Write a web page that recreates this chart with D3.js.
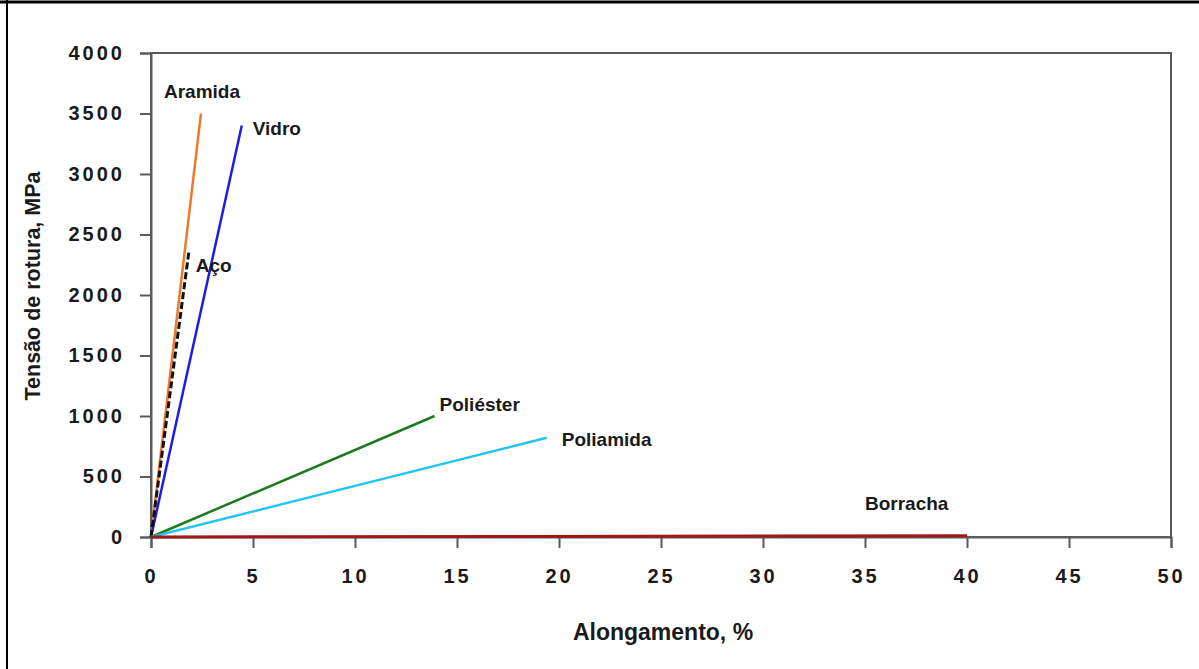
<!DOCTYPE html>
<html><head><meta charset="utf-8">
<script src="https://cdn.jsdelivr.net/npm/d3@7"></script>
<style>
html,body{margin:0;padding:0;background:#fff;}
svg{display:block;}
text{font-family:"Liberation Sans",Arial,sans-serif;font-weight:bold;fill:#1a1a1a;}
</style></head>
<body>
<svg id="chart" width="1199" height="669"></svg>
<script>
// Data (elongation %, tensile strength MPa)
const materials = ["Aramida","Vidro","Aço","Poliéster","Poliamida","Borracha"];
const elongation = [2.45, 4.45, 1.85, 13.9, 19.4, 40];
const strength = [3500, 3400, 2350, 1000, 820, 10];
const colors = ["#f07828","#1e1ee0","#111111","#1f7a1f","#27c3f0","#a01818"];
const xTicks = [0,5,10,15,20,25,30,35,40,45,50];
const yTicks = [0,500,1000,1500,2000,2500,3000,3500,4000];

const svg = d3.select("#chart");
const x = d3.scaleLinear().domain([0,50]).range([151,1171]);
const y = d3.scaleLinear().domain([0,4000]).range([537,53]);

// outer frame (top & left)
svg.append("line").attr("x1",0).attr("x2",1199).attr("y1",2).attr("y2",2).attr("stroke","#000").attr("stroke-width",3);
svg.append("line").attr("x1",7).attr("x2",7).attr("y1",0).attr("y2",669).attr("stroke","#000").attr("stroke-width",2);

// plot frame
svg.append("rect").attr("x",x(0)).attr("y",y(4000)).attr("width",x(50)-x(0)).attr("height",y(0)-y(4000))
  .attr("fill","none").attr("stroke","#5a5a5a").attr("stroke-width",2);

// axes
const yAxis = d3.axisLeft(y).tickValues(yTicks).tickSize(11).tickPadding(15).tickFormat(d3.format("d"));
const gy = svg.append("g").attr("transform",`translate(${x(0)},0)`).call(yAxis);
const xAxis = d3.axisBottom(x).tickValues(xTicks).tickSize(11).tickPadding(21).tickFormat(d3.format("d"));
const gx = svg.append("g").attr("transform",`translate(0,${y(0)})`).call(xAxis);
[gx,gy].forEach(g=>{
  g.select(".domain").attr("stroke","#5a5a5a").attr("stroke-width",2);
  g.selectAll(".tick line").attr("stroke","#5a5a5a").attr("stroke-width",2);
  g.selectAll(".tick text").attr("font-size",20).attr("letter-spacing",3)
   .attr("font-family","'Liberation Sans',Arial,sans-serif").attr("font-weight","bold").attr("fill","#262626");
});

// series lines
const data = materials.map((m,i)=>({name:m, pts:[[0,0],[elongation[i],strength[i]]], color:colors[i]}));
const line = d3.line().x(d=>x(d[0])).y(d=>y(d[1]));
svg.append("g").selectAll("path").data(data).join("path")
  .attr("d",d=>line(d.pts)).attr("fill","none")
  .attr("stroke",d=>d.color).attr("stroke-width",d=>d.name==="Borracha"?3:(d.name==="Aço"?3:2.5))
  .attr("stroke-dasharray",d=>d.name==="Aço"?"7,3":null);

// labels
const labelOffsets = {"Aramida":[-37,-16],"Vidro":[11,9],"Aço":[7,19],"Poliéster":[5,-5],"Poliamida":[15,8],"Borracha":[-102,-26]};
svg.append("g").selectAll("text").data(data).join("text")
  .attr("x",d=>x(d.pts[1][0])+labelOffsets[d.name][0])
  .attr("y",d=>y(d.pts[1][1])+labelOffsets[d.name][1])
  .attr("font-size",19).attr("fill","#262626").text(d=>d.name);

// axis titles
svg.append("text").attr("x",663).attr("y",640).attr("text-anchor","middle").attr("font-size",23).attr("fill","#262626").text("Alongamento, %");
svg.append("text").attr("transform","translate(40,286) rotate(-90)").attr("text-anchor","middle").attr("font-size",21.5).attr("fill","#262626").text("Tensão de rotura, MPa");
</script>
</body></html>
